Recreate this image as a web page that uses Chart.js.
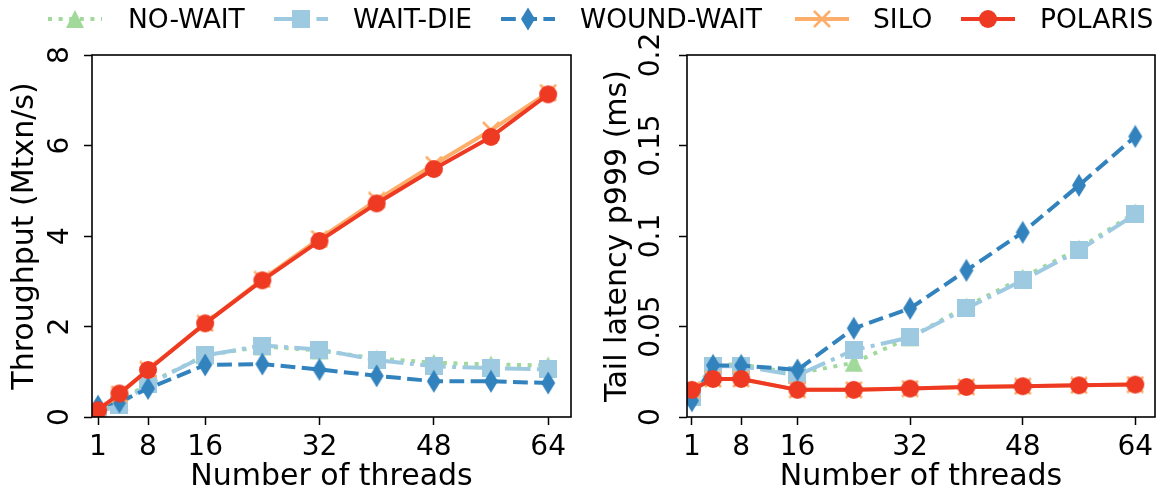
<!DOCTYPE html>
<html><head><meta charset="utf-8">
<script src="https://cdn.jsdelivr.net/npm/chart.js@4"></script>
<style>
html,body{margin:0;padding:0;background:#fff;}
#wrap{position:relative;width:1168px;height:495px;overflow:hidden;background:#fff;}
#c1{position:absolute;left:0;top:0;}
#c2{position:absolute;left:584px;top:0;}
#legend{position:absolute;left:0;top:0;}
#legend text{font-family:"DejaVu Sans";font-size:26.5px;fill:#000;}
</style></head><body>
<div id="wrap">
<canvas id="c1" width="584" height="495"></canvas>
<canvas id="c2" width="584" height="495"></canvas>
<svg id="legend" width="1168" height="45" xmlns="http://www.w3.org/2000/svg">
  <line x1="48" y1="19" x2="102" y2="19" stroke="#a1d99b" stroke-width="4" stroke-dasharray="4 6.6"/>
  <polygon points="75,10 66,28 84,28" fill="#a1d99b"/>
  <text x="128" y="28.3">NO-WAIT</text>
  <line x1="274" y1="19" x2="328" y2="19" stroke="#9ecae1" stroke-width="4" stroke-dasharray="25.6 6.4 4 6.4"/>
  <rect x="292" y="10" width="18" height="18" fill="#9ecae1"/>
  <text x="353" y="28.3">WAIT-DIE</text>
  <line x1="501" y1="19" x2="555" y2="19" stroke="#3182bd" stroke-width="4" stroke-dasharray="14.8 6.4"/>
  <polygon points="528,7.5 535,19 528,30.5 521,19" fill="#3182bd"/>
  <text x="580" y="28.3">WOUND-WAIT</text>
  <line x1="795" y1="19" x2="849" y2="19" stroke="#fdae6b" stroke-width="4"/>
  <path d="M814,11 L830,27 M830,11 L814,27" stroke="#fdae6b" stroke-width="2.5"/>
  <text x="873" y="28.3">SILO</text>
  <line x1="961" y1="19" x2="1015" y2="19" stroke="#ee3a22" stroke-width="4"/>
  <circle cx="988" cy="19" r="9" fill="#ee3a22"/>
  <text x="1040" y="28.3">POLARIS</text>
</svg>
</div>
<script>
// ---- data ----
const threads = [1, 4, 8, 16, 24, 32, 40, 48, 56, 64];
const xTickValues = [1, 8, 16, 32, 48, 64];
const tputTickValues = [0, 2, 4, 6, 8];
const latTickValues = [0, 0.05, 0.1, 0.15, 0.2];
const seriesNames = ['NO-WAIT', 'WAIT-DIE', 'WOUND-WAIT', 'SILO', 'POLARIS'];

const tputNoWait    = [0.12, 0.34, 0.74, 1.36, 1.56, 1.47, 1.29, 1.20, 1.16, 1.14];
const tputWaitDie   = [0.10, 0.27, 0.72, 1.36, 1.58, 1.49, 1.26, 1.12, 1.08, 1.05];
const tputWoundWait = [0.24, 0.33, 0.63, 1.15, 1.17, 1.05, 0.91, 0.79, 0.79, 0.75];
const tputSilo      = [0.15, 0.50, 1.05, 2.07, 3.04, 3.94, 4.79, 5.58, 6.34, 7.17];
const tputPolaris   = [0.15, 0.52, 1.04, 2.07, 3.02, 3.89, 4.72, 5.48, 6.19, 7.13];

const latNoWait     = [0.012, 0.029, 0.029, 0.024, 0.030, 0.044, 0.061, 0.077, 0.093, 0.113];
const latWaitDie    = [0.011, 0.028, 0.028, 0.023, 0.037, 0.044, 0.060, 0.0755, 0.092, 0.112];
const latWoundWait  = [0.009, 0.0285, 0.0285, 0.026, 0.049, 0.060, 0.081, 0.102, 0.128, 0.155];
const latSilo       = [0.015, 0.021, 0.021, 0.015, 0.015, 0.0157, 0.0166, 0.017, 0.0175, 0.0179];
const latPolaris    = [0.015, 0.021, 0.021, 0.015, 0.015, 0.0157, 0.0166, 0.017, 0.0175, 0.0179];

// ---- styles ----
const colors = ['#a1d99b', '#9ecae1', '#3182bd', '#fdae6b', '#ee3a22'];
const dashes = [[4, 6.6], [25.6, 6.4, 4, 6.4], [14.8, 6.4], [], []];

function mk(w, h, draw) {
  const c = document.createElement('canvas');
  c.width = w; c.height = h;
  draw(c.getContext('2d'));
  return c;
}
const markers = [
  mk(20, 20, g => { g.fillStyle = colors[0]; g.beginPath(); g.moveTo(10, 1); g.lineTo(19, 19); g.lineTo(1, 19); g.closePath(); g.fill(); }),
  mk(18, 18, g => { g.fillStyle = colors[1]; g.fillRect(0, 0, 18, 18); }),
  mk(16, 24, g => { g.fillStyle = colors[2]; g.beginPath(); g.moveTo(8, 0.5); g.lineTo(15, 12); g.lineTo(8, 23.5); g.lineTo(1, 12); g.closePath(); g.fill(); }),
  mk(18, 18, g => { g.strokeStyle = colors[3]; g.lineWidth = 2.5; g.beginPath(); g.moveTo(1, 1); g.lineTo(17, 17); g.moveTo(17, 1); g.lineTo(1, 17); g.stroke(); }),
  mk(20, 20, g => { g.fillStyle = colors[4]; g.beginPath(); g.arc(10, 10, 9, 0, Math.PI * 2); g.fill(); })
];

const frame = {
  id: 'frame',
  afterDatasetsDraw(chart) {
    const { ctx, chartArea: a } = chart;
    ctx.save();
    ctx.strokeStyle = '#000';
    ctx.lineWidth = 1.6;
    ctx.strokeRect(a.left, a.top, a.right - a.left, a.bottom - a.top);
    ctx.restore();
  }
};

function makeChart(id, seriesList, cfg) {
  const datasets = seriesList.map((vals, i) => ({
    label: seriesNames[i],
    data: threads.map((t, k) => ({ x: t, y: vals[k] })),
    borderColor: colors[i],
    backgroundColor: colors[i],
    borderWidth: 4,
    borderDash: dashes[i],
    borderJoinStyle: 'round',
    pointStyle: markers[i],
    pointRadius: 9,
    pointHoverRadius: 9,
    tension: 0,
    order: seriesList.length - 1 - i
  }));
  return new Chart(document.getElementById(id), {
    type: 'line',
    data: { datasets },
    options: {
      responsive: false,
      animation: false,
      events: [],
      layout: { padding: { top: 55, right: cfg.padRight, left: 0, bottom: 0 } },
      plugins: { legend: { display: false }, tooltip: { enabled: false } },
      scales: {
        x: {
          type: 'linear',
          min: cfg.xMin, max: cfg.xMax,
          afterBuildTicks: s => { s.ticks = xTickValues.map(v => ({ value: v })); },
          afterFit: s => { s.height = 78; },
          ticks: { font: { family: 'DejaVu Sans', size: 28 }, color: '#000', padding: 6, maxRotation: 0, minRotation: 0, autoSkip: false, callback: v => String(v) },
          grid: { display: true, drawOnChartArea: false, drawTicks: true, tickLength: 8, tickColor: '#000', tickWidth: 1.5 },
          border: { display: false },
          title: { display: true, text: 'Number of threads', color: '#000', font: { family: 'DejaVu Sans', size: 30 }, padding: { top: 0, bottom: 0 } }
        },
        y: {
          type: 'linear',
          min: cfg.yMin, max: cfg.yMax,
          afterBuildTicks: s => { s.ticks = cfg.yTicks.map(v => ({ value: v })); },
          afterFit: s => { s.width = cfg.yWidth; },
          ticks: { font: { family: 'DejaVu Sans', size: 28 }, color: '#000', padding: cfg.yTickPad, minRotation: 90, maxRotation: 90, crossAlign: 'center', autoSkip: false, callback: v => String(v) },
          grid: { display: true, drawOnChartArea: false, drawTicks: true, tickLength: 8, tickColor: '#000', tickWidth: 1.5 },
          border: { display: false },
          title: { display: true, text: cfg.yTitle, color: '#000', font: { family: 'DejaVu Sans', size: 30 }, padding: { top: cfg.yTitlePad, bottom: 0 } }
        }
      }
    },
    plugins: [frame]
  });
}

makeChart('c1', [tputNoWait, tputWaitDie, tputWoundWait, tputSilo, tputPolaris], {
  xMin: 0.16, xMax: 67.2, yMin: 0, yMax: 8, yTicks: tputTickValues,
  yWidth: 92, padRight: 12, yTickPad: 14, yTitle: 'Throughput (Mtxn/s)', yTitlePad: 7.7
});
makeChart('c2', [latNoWait, latWaitDie, latWoundWait, latSilo, latPolaris], {
  xMin: 0.3, xMax: 66.8, yMin: 0, yMax: 0.2, yTicks: latTickValues,
  yWidth: 103, padRight: 3, yTickPad: -3.7, yTitle: 'Tail latency p999 (ms)', yTitlePad: 16.7
});
</script>
</body></html>
